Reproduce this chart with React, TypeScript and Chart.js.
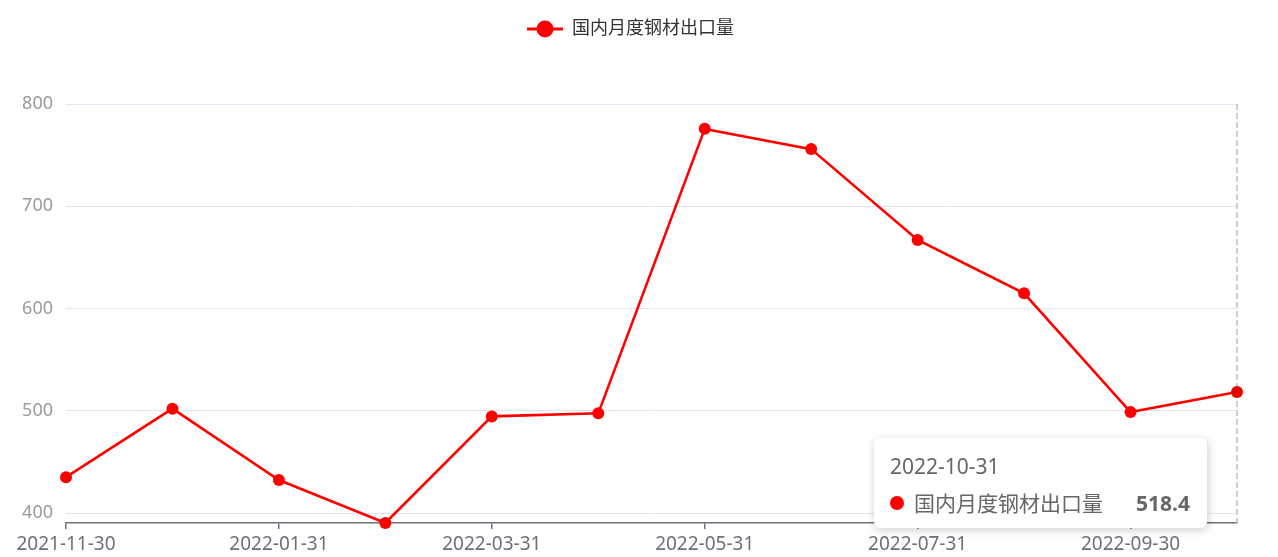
import React, { useEffect, useRef } from "react";
import { Chart, registerables } from "chart.js";

Chart.register(...registerables);

const categories = [
  "2021-11-30", "2021-12-31", "2022-01-31", "2022-02-28", "2022-03-31", "2022-04-30",
  "2022-05-31", "2022-06-30", "2022-07-31", "2022-08-31", "2022-09-30", "2022-10-31",
];
const seriesName = "国内月度钢材出口量";
const exportValues = [435.2, 502.2, 432.4, 390.4, 494.6, 497.6, 775.7, 755.9, 667.1, 614.9, 498.8, 518.4];
const yTicks = [400, 500, 600, 700, 800];
const activeIndex = 11;

const RED = "#FF0000";
const FONT = "'Noto Sans', 'Noto Sans CJK SC', sans-serif";

export default function App() {
  const canvasRef = useRef<HTMLCanvasElement | null>(null);
  const tipRef = useRef<HTMLDivElement | null>(null);

  useEffect(() => {
    const canvas = canvasRef.current;
    if (!canvas) return;

    const legendPlugin = {
      id: "customLegend",
      afterDraw(chart: any) {
        const ctx = chart.ctx;
        const cy = 29;
        const x0 = 527;
        ctx.save();
        ctx.strokeStyle = RED;
        ctx.lineWidth = 3;
        ctx.beginPath();
        ctx.moveTo(x0, cy);
        ctx.lineTo(x0 + 36, cy);
        ctx.stroke();
        ctx.fillStyle = RED;
        ctx.beginPath();
        ctx.arc(x0 + 18, cy, 8.5, 0, Math.PI * 2);
        ctx.fill();
        ctx.fillStyle = "#333";
        ctx.font = `18px ${FONT}`;
        ctx.textBaseline = "middle";
        ctx.textAlign = "left";
        ctx.fillText(chart.data.datasets[0].label, x0 + 45, cy);
        ctx.restore();
      },
    };

    const pointerPlugin = {
      id: "axisPointer",
      beforeDatasetsDraw(chart: any) {
        const act = chart.tooltip?.getActiveElements?.() || [];
        if (!act.length) return;
        const el = act[0].element;
        const { top, bottom } = chart.chartArea;
        const ctx = chart.ctx;
        ctx.save();
        ctx.strokeStyle = "#B9BEC9";
        ctx.lineWidth = 1.5;
        ctx.setLineDash([6, 3]);
        ctx.beginPath();
        ctx.moveTo(el.x, top);
        ctx.lineTo(el.x, bottom);
        ctx.stroke();
        ctx.restore();
      },
    };

    const external = (context: any) => {
      const { chart, tooltip } = context;
      const el = tipRef.current;
      if (!el) return;
      if (tooltip.opacity === 0 || !tooltip.dataPoints || !tooltip.dataPoints.length) {
        el.style.opacity = "0";
        return;
      }
      const dp = tooltip.dataPoints[0];
      el.innerHTML = "";
      const title = document.createElement("div");
      title.textContent = dp.label;
      title.style.cssText = "position:absolute;left:16px;top:15px;font-size:21px;line-height:26px;color:#666;";
      const row = document.createElement("div");
      row.style.cssText = "position:absolute;left:16px;right:17px;top:52px;height:26px;display:flex;align-items:center;font-size:21px;line-height:26px;color:#666;";
      const dot = document.createElement("span");
      dot.style.cssText = `display:inline-block;width:14px;height:14px;border-radius:50%;background:${dp.dataset.borderColor};margin-right:10px;flex:none;`;
      const name = document.createElement("span");
      name.textContent = dp.dataset.label;
      name.style.cssText = "flex:1;";
      const val = document.createElement("span");
      val.textContent = String(dp.raw);
      val.style.cssText = "font-weight:bold;color:#666;";
      row.appendChild(dot);
      row.appendChild(name);
      row.appendChild(val);
      el.appendChild(title);
      el.appendChild(row);
      el.style.opacity = "1";
      el.style.left = tooltip.caretX - 363 + "px";
      el.style.top = chart.chartArea.bottom - 85 + "px";
    };

    const chart = new Chart(canvas, {
      type: "line",
      data: {
        labels: categories,
        datasets: [
          {
            label: seriesName,
            data: exportValues,
            borderColor: RED,
            backgroundColor: RED,
            borderWidth: 2.6,
            pointRadius: 6,
            pointHoverRadius: 6,
            pointBackgroundColor: RED,
            pointBorderColor: RED,
            pointBorderWidth: 0,
            pointHoverBorderWidth: 0,
            tension: 0,
            clip: false as any,
          },
        ],
      },
      options: {
        animation: false,
        responsive: true,
        maintainAspectRatio: false,
        events: [],
        layout: { padding: { left: 0, right: 41, top: 104, bottom: 0 } },
        font: { family: FONT },
        plugins: {
          legend: { display: false },
          tooltip: { enabled: false, external, mode: "index", intersect: false },
        },
        scales: {
          x: {
            type: "category",
            offset: false,
            afterBuildTicks: (s: any) => {
              s.ticks = s.ticks.filter((_t: any, i: number) => i % 2 === 0);
            },
            afterFit: (s: any) => {
              s.height = 34;
            },
            grid: {
              drawOnChartArea: false,
              drawTicks: true,
              tickLength: 6,
              tickColor: "#6E7079",
              lineWidth: 1.5,
            },
            border: { display: true, color: "#6E7079", width: 1.5 },
            ticks: {
              autoSkip: false,
              maxRotation: 0,
              color: "#6E7079",
              font: { size: 19, family: FONT },
              padding: 4,
            },
          },
          y: {
            type: "linear",
            min: Math.min(...exportValues),
            max: 800,
            afterBuildTicks: (s: any) => {
              s.ticks = yTicks.map((v) => ({ value: v }));
            },
            afterFit: (s: any) => {
              s.width = 66;
            },
            grid: { color: "#E0E6F1", lineWidth: 1, drawTicks: false },
            border: { display: false },
            ticks: {
              color: "#9A9A9A",
              font: { size: 18, family: FONT },
              padding: 13,
            },
          },
        },
      },
      plugins: [legendPlugin, pointerPlugin],
    });

    const pt = chart.getDatasetMeta(0).data[activeIndex] as any;
    chart.setActiveElements([{ datasetIndex: 0, index: activeIndex }]);
    chart.tooltip?.setActiveElements([{ datasetIndex: 0, index: activeIndex }], { x: pt.x, y: pt.y });
    chart.update();

    return () => {
      chart.destroy();
    };
  }, []);

  return (
    <div style={{ position: "absolute", left: 0, top: 0, width: 1278, height: 557, background: "#fff", fontFamily: FONT }}>
      <canvas ref={canvasRef} />
      <div
        ref={tipRef}
        style={{
          position: "absolute",
          width: 333,
          height: 90,
          background: "#fff",
          borderRadius: 6,
          boxShadow: "1px 2px 10px rgba(0,0,0,0.2)",
          opacity: 0,
          pointerEvents: "none",
          boxSizing: "border-box",
        }}
      />
    </div>
  );
}
